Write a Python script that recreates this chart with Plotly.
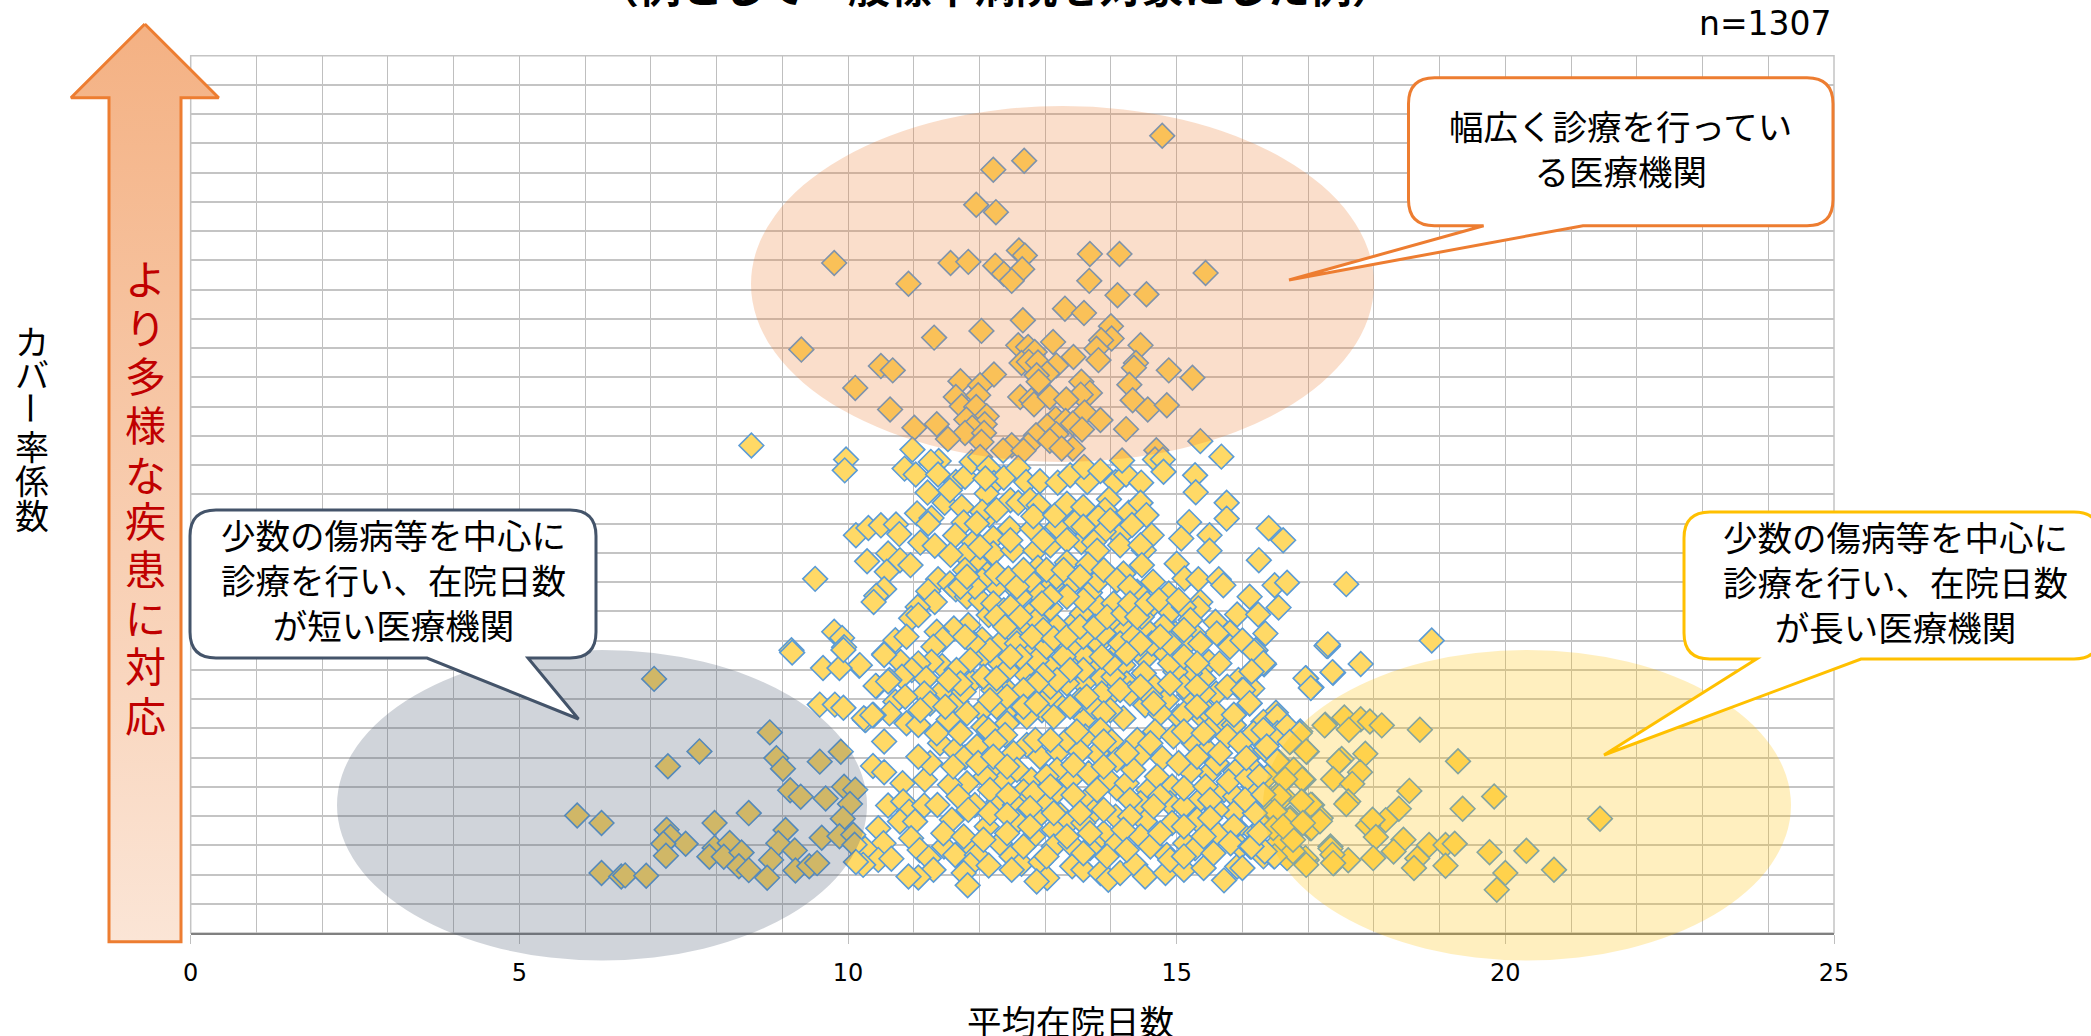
import plotly.graph_objects as go

# ---- data: 平均在院日数 (x) and カバー率係数 (y, in grid units) ----
x_top = [14.78,12.68,12.21,11.95,12.25,9.79,11.56,11.83,12.60,12.69,12.24,12.37,12.65,13.68,14.13,12.49,15.44,13.67,10.92,
14.10,14.54,13.30,13.59,12.66,14.00,12.03,11.31,9.29,12.59,12.74,12.84,13.12,13.43,14.01,13.85,13.78,13.81,14.45,12.64,12.75,12.89,13.17,13.03,12.87,12.90,10.50,10.68,14.38,14.35,14.88,15.24,12.22,11.71,12.01,10.11,14.28,13.55,13.68,13.54,11.64,11.98,12.62,12.79,12.83,13.07,13.32,14.33,14.56,14.85,10.64,11.73,11.95,13.60,12.11,11.80,13.84,12.08,13.16,13.31,13.42,13.03,11.01,11.35,11.89,14.23,13.56,11.78,12.07,11.52,12.03,12.86,13.17,13.07,12.74,12.49,12.36,12.67,13.42,13.25,15.36,14.69]
y_top = [27.26,26.41,26.10,24.90,24.65,22.91,22.91,22.95,23.34,23.17,22.82,22.54,22.70,23.22,23.22,22.30,22.57,22.30,22.20,
21.81,21.84,21.35,21.20,20.95,20.75,20.59,20.36,19.95,20.10,20.04,19.87,20.21,19.70,20.33,20.27,19.98,19.59,20.10,19.49,19.53,19.51,19.41,19.13,19.07,18.85,19.39,19.24,19.49,19.33,19.24,18.99,19.10,18.87,18.73,18.64,18.75,18.85,18.47,18.41,18.33,18.39,18.33,18.22,18.08,18.33,18.24,18.22,17.90,18.05,17.90,18.01,17.99,17.80,17.67,17.56,17.54,17.40,17.59,17.51,17.42,17.33,17.28,17.40,17.28,17.23,17.22,17.10,17.10,16.89,16.79,17.02,17.06,16.83,16.68,16.68,16.50,16.49,16.57,16.57,16.82,16.51]

x_mid_a = [10.98,15.68,11.38,11.26,10.86,11.03,11.37,11.64,11.78,11.88,12.01,12.14,12.22,12.37,12.59,12.71,12.92,13.19,13.38,13.64,13.59,13.84,14.07,14.23,14.46,14.17,14.67,14.79,14.80,15.28,15.29,15.76,15.76,11.21,11.47,11.73,11.55,12.11,12.09,11.05,11.27,11.22,12.47,12.59,12.77,12.90,12.15,12.04,11.76,12.46,12.80,12.82,13.18,13.30,13.15,13.46,13.97,13.91,13.81,14.27,14.45,14.54,15.19,16.40,16.62,15.50,15.07,15.50,16.25,14.62,14.14,13.89,14.32,11.63,11.91,12.21,11.77,11.10,11.32,11.56,12.21,12.51,12.85,13.08,13.55,13.74,13.33,13.79,14.14,14.50,14.45,10.29,10.61,10.79,10.95,10.59,10.12,10.31,10.50,10.73,10.78,11.99,12.12,11.78,11.37,11.55,11.64,11.22,11.32,10.55,10.43,10.39,11.06,10.96,11.07,11.81,12.02,12.14,11.83,11.61,11.35,11.44,11.30,10.72,10.89,10.55,10.80,11.43,11.27,10.17,11.07,10.97,11.19,10.82,10.63,10.43,11.45,11.16,10.72,10.87,10.63,10.89,10.39,10.26,11.07,11.53,11.65,11.88,11.76,12.15,12.04,12.42,12.38]
y_mid_a = [16.53,16.29,16.14,16.11,15.88,15.68,15.68,15.42,15.60,16.11,16.28,15.90,15.39,15.57,15.90,15.42,15.45,15.40,15.65,15.42,15.94,15.80,15.42,15.68,15.40,16.16,16.19,16.19,15.77,15.65,15.07,14.71,14.17,15.06,14.71,14.57,15.14,15.03,15.54,14.35,14.19,14.00,14.80,14.71,14.80,14.63,14.29,14.40,14.04,13.83,13.83,14.25,13.89,14.46,14.29,14.06,14.83,14.46,14.21,14.37,14.71,14.29,14.05,13.84,13.43,13.60,13.49,13.07,12.75,13.60,13.59,13.72,13.95,13.59,13.37,13.51,12.92,13.35,13.24,12.93,12.98,13.09,13.07,13.26,13.37,13.37,13.43,13.07,13.26,13.09,13.26,12.71,12.98,12.75,12.58,12.35,13.60,13.85,13.94,13.97,13.64,12.58,12.27,12.41,12.10,11.95,11.75,11.69,11.32,11.76,11.53,11.32,11.15,10.76,10.87,11.50,11.36,10.87,10.53,10.41,10.30,10.04,9.79,10.01,10.13,9.54,9.27,9.13,9.27,9.14,9.22,8.99,8.70,8.76,8.65,8.44,8.31,8.19,7.91,8.08,7.51,7.17,7.45,7.28,7.11,7.30,7.91,8.59,8.25,8.53,7.62,8.31,7.51]

x_mid_b = [12.26,12.06,12.04,12.42,12.67,12.80,12.92,13.20,13.46,13.81,14.04,13.33,13.08,13.74,13.86,13.61,12.52,12.80,13.08,12.68,13.41,13.18,13.56,13.79,13.68,13.43,13.10,12.87,12.89,13.17,13.33,13.65,14.19,13.81,14.40,14.64,14.04,14.47,15.00,15.12,15.33,15.64,15.71,14.88,14.60,14.90,15.36,15.33,15.11,16.11,15.92,16.24,16.55,16.49,16.68,15.59,15.81,15.61,15.81,16.00,16.35,16.20,16.33,16.15,15.49,15.65,15.26,15.41,15.20,14.98,14.80,14.52,14.47,14.22,14.09,14.52,14.80,15.03,14.98,14.67,14.19,14.40,15.60,15.20,14.85,14.52,14.19,14.01,13.86,13.61,13.20,13.08,12.95,12.72,15.94,15.99,16.15,16.11,15.87,16.51,16.32,16.55,16.97,17.05,17.38,17.30,17.58,15.41,15.66,15.87,15.44,15.03]
y_mid_b = [9.33,9.50,10.04,9.81,8.93,9.62,10.01,9.90,9.62,9.90,10.53,9.27,9.05,9.05,8.70,9.45,10.87,10.98,11.10,10.47,10.53,10.47,10.93,11.21,11.64,12.01,11.89,11.67,12.49,12.18,12.67,12.60,12.29,12.06,11.67,12.01,11.27,12.58,12.63,12.12,12.10,12.10,11.89,11.61,11.15,10.98,11.32,11.10,11.15,11.50,10.89,10.89,11.13,11.89,11.98,10.64,10.27,10.24,9.79,10.00,10.24,9.67,9.19,8.93,9.27,9.22,10.24,8.70,8.88,10.24,10.47,10.41,10.81,10.36,9.54,9.39,9.62,9.45,8.93,8.42,9.16,9.67,8.19,8.14,7.97,7.79,7.34,8.19,8.19,7.34,7.85,8.14,7.62,7.39,8.65,8.31,8.36,7.85,7.45,7.53,7.22,7.11,8.70,8.40,8.90,9.81,11.93,7.34,7.17,7.11,7.62,7.40]

x_mid_c = [12.62,12.47,12.26,12.04,11.93,12.21,12.37,12.62,12.77,13.02,13.28,13.53,13.89,14.09,14.29,13.58,13.33,13.08,12.87,12.47,12.31,12.57,12.87,13.02,13.28,13.58,13.89,14.14,14.34,14.62,14.90,15.16,15.36,14.50,14.24,14.04,13.58,13.33,13.08,12.77,12.57,12.26,11.81,12.21,12.42,13.53,13.74,13.99,14.29,14.60,14.75,15.11,15.41,15.11]
y_mid_c = [12.18,11.95,11.84,12.06,11.84,11.27,11.04,11.50,12.06,12.41,12.41,12.18,12.41,12.06,11.84,11.38,11.50,11.50,10.70,10.24,9.90,9.90,9.33,9.79,9.45,10.13,10.24,9.90,10.13,9.90,9.22,9.90,9.90,8.88,8.53,8.76,8.53,8.53,8.42,8.42,8.08,7.74,7.51,8.31,8.99,7.97,7.74,7.62,8.19,8.08,7.51,8.42,8.19,7.51]

x_mid_d = [11.71,11.81,12.26,12.44,12.57,12.67,12.47,12.26,12.39,12.62,12.95,12.97,12.80,13.13,13.33,13.53,13.76,13.94,14.19,14.29,14.40,14.55,14.73,15.03,15.21,15.11,14.90,15.11,15.31,14.75,14.45,14.24,13.99,13.86,13.58,13.38,13.18,12.97,12.87,12.67,12.42,12.16,12.06,12.26,12.62,12.47,12.16,11.91,11.78,11.86,11.65,11.71,11.53,11.25,11.48,11.10,12.06,12.42,12.67,12.87,13.13,13.38,13.63,13.89,14.14,14.45,14.65,14.90,15.31,15.31,15.61,15.77,
13.33,13.58,12.26,11.96,13.58,13.99,12.97,12.47,12.01]
y_mid_d = [11.84,12.18,12.29,12.12,11.84,12.41,11.15,10.81,10.47,10.81,11.27,10.36,10.13,10.07,10.13,10.47,10.47,10.81,10.93,11.27,10.81,11.27,11.38,11.38,10.70,10.36,9.90,9.45,9.22,10.13,9.90,9.56,9.22,9.45,8.99,8.99,8.65,8.82,8.53,8.31,8.08,7.96,8.76,8.70,9.45,9.45,9.67,9.90,10.13,9.33,8.99,8.53,8.65,7.85,7.74,7.62,7.05,7.17,7.74,7.85,7.39,7.74,8.08,7.51,8.31,8.42,7.85,8.53,8.42,7.74,7.51,8.42,
14.68,14.57,14.46,14.00,13.89,14.11,13.43,13.43,13.20]

x_low_a = [10.55,10.38,10.55,10.83,10.61,10.84,10.93,10.79,11.16,11.02,11.36,10.46,10.54,10.26,10.46,10.23,10.66,10.96,11.09,11.23,11.30,11.07,10.92,11.46,11.63,11.83,11.96,11.86,12.14,11.76,11.82,12.49,12.64,12.49,12.93,12.82,13.03,12.87,13.41,13.58,13.84,13.96,14.14,14.37,14.52,14.83,15.11,15.41,15.72,15.92,14.85,15.13,15.28,15.61,15.92,16.20,15.97,16.32,16.48,16.78,16.98]
y_low_a = [6.55,5.71,5.50,5.12,4.36,4.50,4.15,3.81,4.36,3.81,4.38,3.58,3.07,2.88,2.50,2.33,2.54,3.24,2.84,2.56,2.16,1.90,1.93,2.96,2.67,3.07,2.67,2.33,2.31,2.05,1.63,2.62,2.37,2.16,2.42,3.30,1.88,1.76,2.28,2.16,2.05,1.82,2.05,2.33,1.93,2.05,2.16,2.22,1.80,2.27,2.67,3.07,2.90,3.41,3.58,3.41,2.96,2.62,2.62,2.79,2.50]

x_low_b = [12.14,12.39,12.72,12.92,13.20,13.33,13.61,13.84,14.01,13.79,13.53,14.40,14.67,14.95,15.26,15.46,15.77,15.49,15.87,16.17,16.53,16.53,16.73,16.88,16.98,17.26,16.10,16.35,16.55,16.65,16.93,16.15,15.89,15.49,15.21,14.78,14.45,14.09,13.66,13.38,13.18,12.79,13.18,12.67,12.37,12.09,11.81,11.55,11.17,11.25,11.40,11.63,11.78,11.96,12.24,12.52,11.68,11.93,12.29,12.54,13.02,12.87,13.23,13.35,13.61,13.74,14.09,13.96,14.57,14.93,14.45,14.90,15.33,15.72,15.89,16.17,16.53,16.50,16.73,17.06,16.91,17.03,17.19,16.63,16.22,16.10,15.31,14.93,14.52,14.07,13.89,13.58,13.13,12.57,12.11,11.58,13.74,13.68,14.45,14.09,14.60,14.90,16.53,16.68,17.34,17.39,12.31,13.13,13.38,15.87,15.61,15.11,14.24,14.70,15.61,15.03,15.31,13.02,12.57,12.26,13.43,13.89,14.34,16.38,16.78,16.45]
y_low_b = [6.94,6.77,6.43,6.03,6.20,6.60,6.72,6.94,6.55,6.15,6.20,6.60,6.89,6.72,6.49,6.26,6.72,6.94,7.46,6.83,7.40,6.83,6.55,6.89,6.20,7.12,6.03,6.26,5.86,5.24,5.24,5.64,5.52,5.46,5.52,5.98,6.09,5.92,5.46,5.24,5.58,5.24,4.84,4.84,5.24,5.35,5.12,5.07,5.24,5.81,6.49,6.26,6.01,6.38,6.55,6.15,4.67,4.38,4.50,4.38,4.38,3.93,4.04,3.76,4.50,4.15,4.95,5.24,4.89,5.01,4.44,4.44,4.50,4.89,4.67,5.01,4.72,4.21,3.93,4.38,4.50,3.58,3.93,3.41,4.04,4.33,3.87,3.76,3.81,3.98,3.41,3.76,3.53,3.81,3.64,3.87,3.07,2.90,3.30,3.07,2.96,2.50,3.07,2.56,2.96,2.39,3.07,2.96,3.07,4.10,4.21,4.33,5.12,5.35,5.81,5.81,6.03,5.35,5.58,5.81,5.75,5.69,5.58,5.35,5.58,3.98]

x_low_c = [11.07,11.35,11.71,11.60,11.98,12.21,12.42,12.85,13.08,13.48,13.89,14.24,14.60,15.11,15.41,15.66,15.97,16.32,16.68,
12.16,12.44,12.82,13.08,13.43,13.79,14.29,14.75,15.11,15.44,15.51,15.79,16.07,16.32,16.63,
11.83,12.16,12.42,12.77,13.13,13.53,13.89,14.29,14.65,15.11,15.51,15.87,16.32,
11.45,11.76,12.06,12.42,12.77,13.33,13.68,14.19,14.75,15.41,15.82,16.12,
12.67,13.02,13.58,13.94,14.24,15.11,15.56]
y_low_c = [6.03,6.83,6.83,5.69,5.81,6.03,5.69,6.60,6.60,6.89,6.55,6.15,6.49,6.89,6.83,6.15,6.49,6.94,7.06,
4.89,4.72,4.78,5.01,4.72,4.89,4.55,4.67,4.95,5.01,4.55,5.18,5.29,4.55,4.67,
4.21,4.10,4.04,4.27,4.10,4.10,4.21,3.98,4.33,3.64,3.93,3.64,3.64,
3.41,3.30,3.19,3.41,3.64,3.30,3.41,3.53,3.41,3.30,3.07,2.96,
2.96,2.62,2.73,2.62,2.84,2.62,2.73]

x_left = [7.05,8.81,7.74,7.26,8.91,9.01,9.57,9.89,9.12,9.28,9.66,9.94,10.11,10.03,9.92,5.88,6.25,8.49,7.97,7.24,7.30,7.53,7.19,7.23,7.97,8.20,7.89,8.11,8.38,8.34,8.49,9.05,8.94,9.19,8.83,8.77,9.20,9.41,9.53,9.60,9.87,10.08,10.10,6.25,6.55,6.61,6.93,10.12,10.18,10.42,10.27,10.38,10.61,
8.53,9.97,9.95,9.50,9.14,9.79,9.91,9.94,9.62,9.87,9.57,9.80,9.93,10.24,10.37,9.15,9.93,10.55]
y_left = [8.69,6.86,6.21,5.70,5.98,5.62,5.86,6.20,4.88,4.66,4.60,5.00,4.90,4.41,3.91,4.02,3.76,4.10,3.76,3.53,3.29,3.05,3.05,2.64,2.91,3.08,2.61,2.61,2.75,2.28,2.15,3.52,3.07,2.82,2.50,1.89,2.14,2.28,2.39,3.26,3.31,3.36,3.02,2.05,1.93,1.97,1.96,2.43,9.16,8.45,7.29,7.46,8.60,
16.67,16.19,15.82,12.11,9.67,10.30,10.09,9.77,9.06,9.06,7.81,7.81,7.70,7.34,7.45,9.59,9.68,9.51]

x_right = [18.88,17.28,17.30,17.80,17.37,16.96,17.04,17.25,17.55,17.80,17.94,18.12,17.62,18.70,16.87,16.72,16.97,17.87,17.51,17.47,19.28,17.79,17.38,17.67,16.91,16.65,16.53,18.54,19.83,19.35,18.38,17.61,17.58,17.04,16.90,16.56,21.44,18.18,17.91,17.98,18.03,16.72,17.05,17.18,16.49,18.45,18.30,18.84,19.09,19.23,19.76,20.32,18.66,18.61,19.09,17.99,17.61,17.34,17.37,17.38,16.96,16.97,16.77,16.77,16.49,16.34,16.14,20.00,20.74,19.87,16.00,16.18,16.32,16.14,16.01,16.11,16.37,16.06,16.26,16.19,16.04,16.32,16.47,16.26,16.62,16.92]
y_right = [10.00,9.82,9.87,9.20,8.92,8.71,8.38,7.10,7.37,7.31,7.23,7.10,6.95,6.95,6.83,6.53,6.21,6.13,5.95,5.87,5.87,5.50,5.26,5.10,5.26,5.26,5.87,4.86,4.67,4.25,4.25,4.50,4.41,4.39,4.50,4.67,3.91,3.86,3.68,3.87,3.28,3.87,3.59,3.82,4.16,3.19,2.79,3.01,3.01,3.05,2.76,2.81,2.55,2.22,2.30,2.56,2.49,2.89,2.68,2.39,2.56,2.33,2.79,3.19,2.62,2.79,2.96,2.05,2.16,1.48,2.22,9.62,9.23,8.94,8.31,7.86,6.38,5.98,5.35,4.10,4.56,4.73,3.59,3.42,3.64,3.76]

x_days = x_top + x_mid_a + x_mid_b + x_mid_c + x_mid_d + x_low_a + x_low_b + x_low_c + x_left + x_right
y_cover = y_top + y_mid_a + y_mid_b + y_mid_c + y_mid_d + y_low_a + y_low_b + y_low_c + y_left + y_right

x_ticks = [0, 5, 10, 15, 20, 25]
x_title = "平均在院日数"
y_title = "カバー率係数"
arrow_text = "より多様な疾患に対応"
note_n = "n=1307"
title_text = "（例として一般標準病院を対象にした例）"
note_wide = "幅広く診療を行ってい<br>る医療機関"
note_short = "少数の傷病等を中心に<br>診療を行い、在院日数<br>が短い医療機関"
note_long = "少数の傷病等を中心に<br>診療を行い、在院日数<br>が長い医療機関"

W, H = 2091, 1036
JP = "Noto Sans CJK JP"
LAT = "DejaVu Sans, Noto Sans CJK JP"
GRID = "#C4C4C4"
def fx(p): return p / W
def fy(p): return 1 - p / H

def ellipse(x0, y0, x1, y1, col):
    return dict(type="circle", xref="paper", yref="paper", x0=fx(x0), x1=fx(x1), y0=fy(y1), y1=fy(y0),
                fillcolor=col, opacity=0.25, line=dict(width=0), layer="above")

def callout(l, t, r, b, a, tip, c, col, rad=26):
    P = lambda x, y: f"{fx(x):.5f},{fy(y):.5f}"
    d = ("M" + P(l + rad, t) + " L" + P(r - rad, t) + " Q" + P(r, t) + " " + P(r, t + rad) +
         " L" + P(r, b - rad) + " Q" + P(r, b) + " " + P(r - rad, b) +
         " L" + P(c, b) + " L" + P(*tip) + " L" + P(a, b) +
         " L" + P(l + rad, b) + " Q" + P(l, b) + " " + P(l, b - rad) +
         " L" + P(l, t + rad) + " Q" + P(l, t) + " " + P(l + rad, t) + " Z")
    return dict(type="path", xref="paper", yref="paper", path=d, fillcolor="white",
                line=dict(color=col, width=3), layer="above")

fig = go.Figure()
fig.add_trace(go.Scatter(x=x_days, y=y_cover, mode="markers", showlegend=False, hoverinfo="skip",
                         marker=dict(symbol="diamond", size=19, color="#FFD966",
                                     line=dict(color="#5B9BD5", width=1.6))))

# decorative gradient arrow on a full-page pixel axis
ax = [144.8, 218.7, 181, 181, 109, 109, 71, 144.8]
ay = [24, 97.7, 97.7, 941.8, 941.8, 97.7, 97.7, 24]
fig.add_trace(go.Scatter(x=ax, y=ay, xaxis="x2", yaxis="y2", mode="lines", fill="toself", showlegend=False,
                         hoverinfo="skip", line=dict(color="#ED7D31", width=3),
                         fillgradient=dict(type="vertical", colorscale=[[0, "#FBE5D6"], [1, "#F4B183"]])))

shapes = [
    dict(type="rect", xref="paper", yref="paper", x0=fx(190.7), x1=fx(1834), y0=fy(933), y1=fy(55.7),
         line=dict(color=GRID, width=1.5), fillcolor="rgba(0,0,0,0)", layer="below"),
    ellipse(751, 106, 1374, 462, "#ED7D31"),
    ellipse(337, 650, 867, 960.5, "#44546A"),
    ellipse(1263, 650, 1791, 960.5, "#FFC000"),
    callout(1408.5, 77.7, 1833, 225.7, 1483.6, (1289, 280), 1583, "#ED7D31"),
    callout(190, 510, 596, 658, 427, (578.5, 719), 528, "#44546A"),
    callout(1684, 512, 2100, 659, 1756.5, (1604, 755), 1861, "#FFC000"),
]

ann = []
def text(px, py, s, size, color="black", family=JP, **kw):
    ann.append(dict(x=fx(px), y=fy(py), xref="paper", yref="paper", text=s, showarrow=False,
                    xanchor=kw.pop("xanchor", "center"), yanchor="middle",
                    font=dict(size=size, color=color, family=family), **kw))

for ch, py in zip(arrow_text, [277, 326, 374, 423, 473, 519, 567, 616, 664, 714]):
    text(145, py, ch, 41, color="#C00000")
for ch, py in zip(y_title, [340, 373, 408, 445, 480, 514]):
    text(32, py, ch, 34, textangle=90 if ch == "ー" else 0)
text(1620, 147, note_wide, 34.5)
text(393, 579, note_short, 34.5)
text(1895, 581, note_long, 34.5)
text(1070, 1020, x_title, 34.5)
text(1834, 24, note_n, 33, family=LAT, xanchor="right")
text(995, -15, "<b>" + title_text + "</b>", 42)

fig.update_layout(
    width=W, height=H, margin=dict(l=0, r=0, t=0, b=0, autoexpand=False), paper_bgcolor="white", plot_bgcolor="rgba(0,0,0,0)",
    showlegend=False, shapes=shapes, annotations=ann,
    xaxis=dict(domain=[190.7 / W, 1834 / W], range=[0, 25], tickmode="array", tickvals=x_ticks,
               showgrid=True, gridcolor="#BFBFBF", gridwidth=1, zeroline=False,
               showline=True, linecolor="#808080", linewidth=2,
               ticks="outside", ticklen=9, tickwidth=1, tickcolor="#BFBFBF", ticklabelstandoff=8,
               tickfont=dict(size=24, color="black", family=LAT),
               minor=dict(dtick=1, showgrid=True, gridcolor="#BFBFBF", gridwidth=1, ticks="")),
    yaxis=dict(domain=[1 - 933 / H, 1 - 55.7 / H], range=[0, 30], dtick=1, showticklabels=False, ticks="",
               showgrid=True, gridcolor=GRID, gridwidth=1.5, zeroline=False, showline=False),
    xaxis2=dict(domain=[0, 1], range=[0, W], visible=False, anchor="y2"),
    yaxis2=dict(domain=[0, 1], range=[H, 0], visible=False, anchor="x2"),
)

fig.write_html("out.html", config=dict(displayModeBar=False),
               post_script="document.body.style.margin='0';document.documentElement.style.overflow='hidden';")
